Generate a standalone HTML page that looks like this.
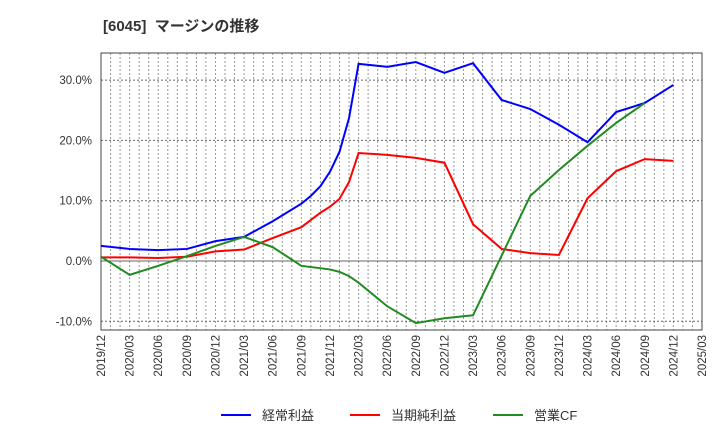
<!DOCTYPE html>
<html><head><meta charset="utf-8"><style>
body{margin:0;background:#fff;}
svg{display:block;font-family:"Liberation Sans","Noto Sans CJK JP",sans-serif;}
</style></head><body>
<svg id="chart" width="720" height="440">
<text x="103" y="31" font-size="15" font-weight="bold" fill="#333">[6045]&#160; マージンの推移</text>
<g id="grid"></g><g id="axes"></g><g id="series"></g><g id="legend"></g>
</svg>
<script>
const xTickLabels=["2019/12","2020/03","2020/06","2020/09","2020/12","2021/03","2021/06","2021/09","2021/12","2022/03","2022/06","2022/09","2022/12","2023/03","2023/06","2023/09","2023/12","2024/03","2024/06","2024/09","2024/12","2025/03"];
const yTicks=[-10,0,10,20,30];
const seriesNames=["経常利益","当期純利益","営業CF"];
const seriesColors=["#0000ff","#ff0000","#228b22"];
// month offsets from 2019/12
const ordinaryMonths=[0,3,6,9,12,15,18,21,22,23,24,25,26,27,30,33,36,39,42,45,48,51,54,57,60];
const ordinaryValues=[2.5,2.0,1.8,2.0,3.3,4.0,6.6,9.5,10.8,12.4,14.8,18.1,23.7,32.7,32.2,33.0,31.2,32.8,26.7,25.2,22.6,19.7,24.7,26.2,29.2];
const netMonths=[0,3,6,9,12,15,18,21,23,24,25,26,27,30,33,36,39,42,45,48,51,54,57,60];
const netValues=[0.6,0.6,0.5,0.7,1.6,1.9,3.8,5.6,8.0,9.0,10.3,13.1,17.9,17.6,17.1,16.3,6.1,2.0,1.3,1.0,10.4,14.9,16.9,16.6];
const cfMonths=[0,3,6,9,12,15,18,21,24,25,26,27,30,33,36,39,42,45,48,51,54,57];
const cfValues=[0.7,-2.3,-0.8,0.8,2.5,4.0,2.3,-0.8,-1.4,-1.8,-2.5,-3.6,-7.5,-10.3,-9.5,-9.0,0.9,10.8,15.1,19.1,22.9,26.2];

const L=101,R=702,T=53,B=330,NS="http://www.w3.org/2000/svg";
const xs=m=>L+m*(R-L)/63;
const ys=v=>261-v*6.03;
function mk(tag,attrs,parent){const e=document.createElementNS(NS,tag);for(const k in attrs)e.setAttribute(k,attrs[k]);parent.appendChild(e);return e;}
const grid=document.getElementById('grid'),axes=document.getElementById('axes'),ser=document.getElementById('series'),leg=document.getElementById('legend');
for(let m=1;m<63;m++){const g=mk('line',{x1:xs(m),x2:xs(m),y1:T,y2:B,stroke:'#999','stroke-dasharray':'2,2','stroke-width':1},grid);

}
yTicks.forEach(v=>{const g=mk('line',{x1:L,x2:R,y1:ys(v),y2:ys(v),stroke:'#666','stroke-dasharray':v===0?'':'2,2','stroke-width':1},grid);


const t=mk('text',{x:92,y:ys(v)+4,'text-anchor':'end','font-size':11.5,fill:'#333'},axes);t.textContent=v.toFixed(1)+'%';

});
xTickLabels.forEach((s,i)=>{const x=xs(i*3);const t=mk('text',{transform:`translate(${x+4},${B+5}) rotate(-90)`,'text-anchor':'end','font-size':11.5,fill:'#333'},axes);t.textContent=s;

});
const fr=mk('rect',{x:L,y:T,width:R-L,height:B-T,fill:'none',stroke:'#444','stroke-width':1},axes);


const data=[[ordinaryMonths,ordinaryValues],[netMonths,netValues],[cfMonths,cfValues]];
const keys=['ordinary-profit-line','net-profit-line','operating-cf-line'];
data.forEach((d,i)=>{const pts=d[0].map((m,j)=>xs(m)+','+ys(d[1][j])).join(' ');
const p=mk('polyline',{points:pts,fill:'none',stroke:seriesColors[i],'stroke-width':2},ser);

});
const lx=[221,350,493];
seriesNames.forEach((n,i)=>{const g=mk('g',{},leg);


mk('line',{x1:lx[i],x2:lx[i]+30,y1:415,y2:415,stroke:seriesColors[i],'stroke-width':2},g);
const t=mk('text',{x:lx[i]+41,y:420,'font-size':13,fill:'#333'},g);t.textContent=n;});
</script>
</body></html>
